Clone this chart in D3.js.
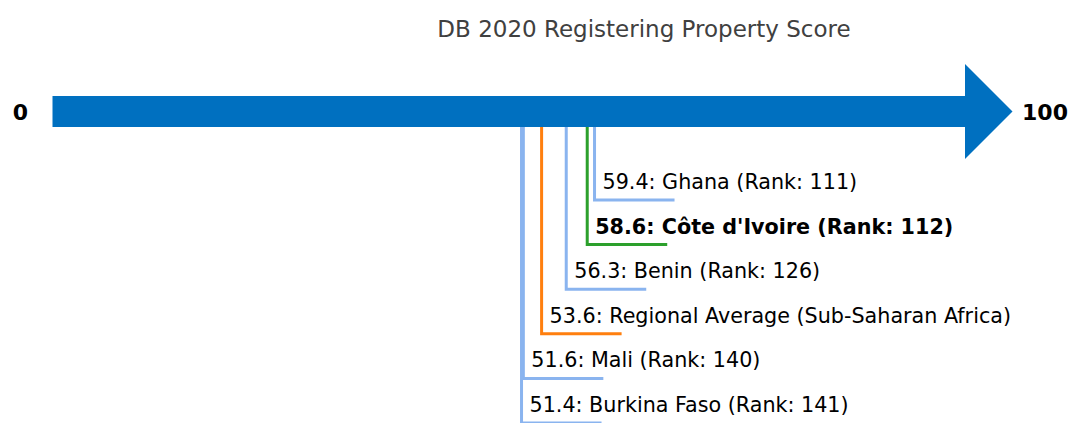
<!DOCTYPE html>
<html>
<head>
<meta charset="utf-8">
<script src="https://cdn.jsdelivr.net/npm/d3@7"></script>
<style>
  body { margin: 0; background: #fff; }
  svg { display: block; font-family: "DejaVu Sans", sans-serif; }
</style>
</head>
<body>
<svg width="1072" height="423"></svg>
<script>
// DB 2020 registering property scores
const names = ["Ghana", "Côte d'Ivoire", "Benin", "Regional Average (Sub-Saharan Africa)", "Mali", "Burkina Faso"]
const scores = [59.4, 58.6, 56.3, 53.6, 51.6, 51.4]
const ranks = [111, 112, 126, null, 140, 141]
const kinds = ["peer", "focus", "peer", "region", "peer", "peer"]
const endLabels = ["0", "100"]

const colorScale = d3.scaleOrdinal()
    .domain(["peer", "focus", "region"])
    .range(["#8ab4ef", "#2ca02c", "#ff7f0e"])

var x = d3.scaleLinear().domain([0, 100]).range([52.5, 965])
var y = d3.scaleLinear().domain([0, names.length - 1]).range([200, 423])

var rows = names.map((n, i) => ({
    name: n, score: scores[i], rank: ranks[i], kind: kinds[i], i: i
}))

var svg = d3.select("svg")
var axisY = 111.5

svg.append("text")
    .attr("x", 644)
    .attr("y", 37)
    .attr("text-anchor", "middle")
    .style("font-size", "23px")
    .style("fill", "#404040")
    .text("DB 2020 Registering Property Score")

// leader lines (drawn under the arrow)
var g = svg.append("g")

g.selectAll("path.leader")
    .data(rows)
    .join("path")
    .attr("class", "leader")
    .attr("d", d => `M${x(d.score)},${axisY}V${y(d.i)}H${x(d.score) + 80}`)
    .attr("fill", "none")
    .attr("stroke", d => colorScale(d.kind))
    .attr("stroke-width", 3)

g.selectAll("text.label")
    .data(rows)
    .join("text")
    .attr("class", "label")
    .attr("x", d => x(d.score) + 8)
    .attr("y", d => y(d.i) - 11)
    .style("font-size", "20.7px")
    .style("font-weight", d => d.kind == "focus" ? "bold" : "normal")
    .style("fill", "#000")
    .text(d => d.rank ? `${d.score}: ${d.name} (Rank: ${d.rank})` : `${d.score}: ${d.name}`)

// arrow
svg.append("rect")
    .attr("x", x(0))
    .attr("y", axisY - 15.5)
    .attr("width", x(100) - x(0))
    .attr("height", 31)
    .attr("fill", "#0070c0")

svg.append("path")
    .attr("d", `M${x(100)},${axisY - 47.5}L${x(100) + 47.5},${axisY}L${x(100)},${axisY + 47.5}Z`)
    .attr("fill", "#0070c0")

svg.selectAll("text.end")
    .data(endLabels)
    .join("text")
    .attr("class", "end")
    .attr("x", (d, i) => i == 0 ? 20.5 : 1045)
    .attr("y", axisY + 8)
    .attr("text-anchor", "middle")
    .style("font-size", "22px")
    .style("font-weight", "bold")
    .style("fill", "#000")
    .text(d => d)
</script>
</body>
</html>
